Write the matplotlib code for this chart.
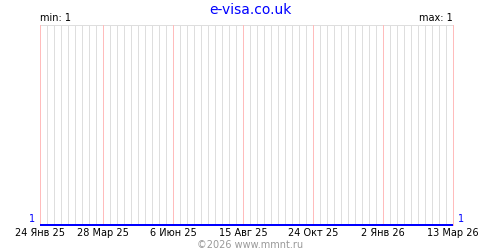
import matplotlib
matplotlib.use("Agg")
import matplotlib.pyplot as plt
import matplotlib.dates as mdates
import datetime as dt

title = "e-visa.co.uk"
start_date = "2025-01-24"
n_weeks = 60
values = [1, 1, 1, 1, 1, 1, 1, 1, 1, 1, 1, 1, 1, 1, 1, 1, 1, 1, 1, 1,
          1, 1, 1, 1, 1, 1, 1, 1, 1, 1, 1, 1, 1, 1, 1, 1, 1, 1, 1, 1,
          1, 1, 1, 1, 1, 1, 1, 1, 1, 1, 1, 1, 1, 1, 1, 1, 1, 1, 1, 1]
tick_weeks = [0, 9, 19, 29, 39, 49, 59]
tick_labels = ["24 Янв 25", "28 Мар 25", "6 Июн 25", "15 Авг 25",
               "24 Окт 25", "2 Янв 26", "13 Мар 26"]
min_label = "min: 1"
max_label = "max: 1"
copyright_text = "©2026 www.mmnt.ru"

d0 = dt.date.fromisoformat(start_date)
dates = [d0 + dt.timedelta(weeks=i) for i in range(n_weeks)]
x = mdates.date2num(dates)

fig = plt.figure(figsize=(5, 2.5), dpi=100)
ax = fig.add_axes([0.08, 0.1, 0.826, 0.8])
for s in ax.spines.values():
    s.set_visible(False)

for i, xv in enumerate(x):
    is_tick = i in tick_weeks
    ax.axvline(xv, color="#ffbcbc" if is_tick else "#dedede",
               lw=0.72, zorder=2 if is_tick else 1,
               antialiased=False, clip_on=False)
ax.axhline(2, color="#dedede", lw=0.72, zorder=1, antialiased=False, clip_on=False)

ax.plot(x, values, color="#0000ff", lw=1.44, zorder=3, solid_capstyle="butt",
        clip_on=False, antialiased=False)
ax.set_xlim(x[0], x[-1])
ax.set_ylim(1, 2)
ax.set_yticks([])
ax.set_xticks([x[i] for i in tick_weeks])
ax.set_xticklabels(tick_labels, fontsize=7)
ax.tick_params(axis="x", length=0, pad=2)

ax.text(-0.012, 0.005, "1", transform=ax.transAxes, ha="right", va="bottom",
        color="#0000ff", fontsize=7)
ax.text(1.012, 0.005, "1", transform=ax.transAxes, ha="left", va="bottom",
        color="#0000ff", fontsize=7)
ax.text(0.0, 1.01, min_label, transform=ax.transAxes, ha="left", va="bottom",
        fontsize=7)
ax.text(1.0, 1.01, max_label, transform=ax.transAxes, ha="right", va="bottom",
        fontsize=7)
fig.text(0.5, 0.962, title, ha="center", va="center", color="#0000ff",
         fontsize=10)
fig.text(0.5, 0.022, copyright_text, ha="center", va="center", color="#999999",
         fontsize=7)

fig.savefig("out.png", dpi=100)
